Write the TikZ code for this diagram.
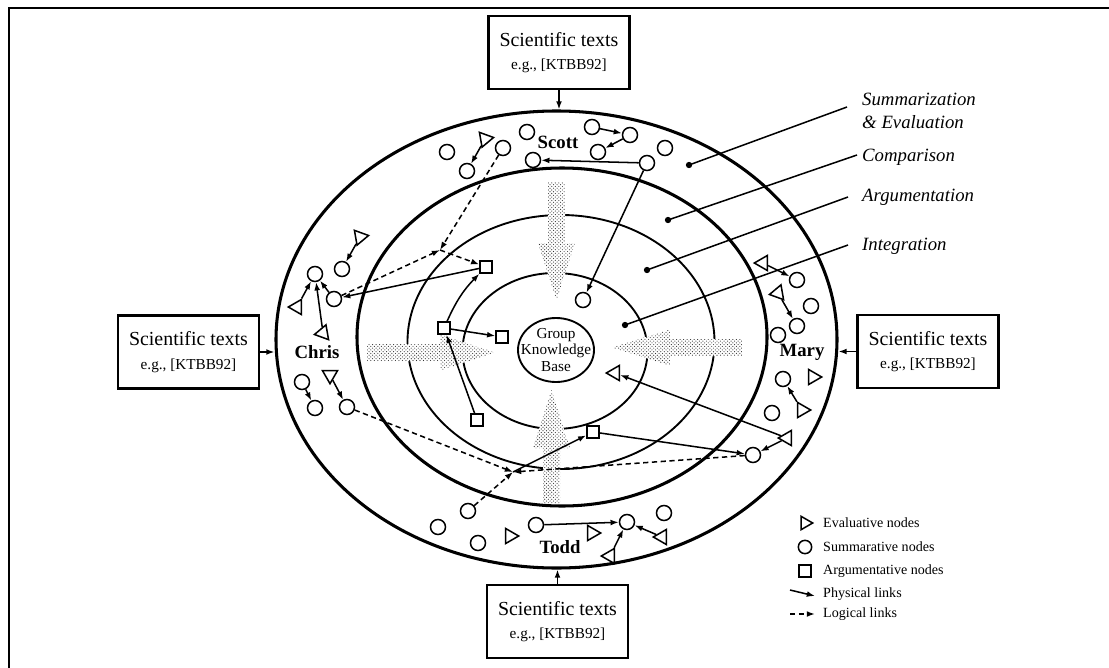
\documentclass[tikz,border=0pt]{standalone}
\usepackage{fontspec}
\setmainfont{Liberation Serif}
\usetikzlibrary{shapes.geometric,patterns,arrows.meta}
\newcommand{\sciencetext}{Scientific texts\\{\fontsize{13}{15}\selectfont e.g., [KTBB92]}}

\begin{document}
\begin{tikzpicture}[x=0.03cm, y=-0.03cm,
    summ/.style={circle, draw, line width=1.3pt, minimum size=0.45cm, inner sep=0pt},
    argu/.style={rectangle, draw, line width=1.3pt, minimum size=0.36cm, inner sep=0pt},
    evalnode/.style={regular polygon, regular polygon sides=3, draw, line width=1.3pt, minimum size=0.52cm, inner sep=0pt, shape border rotate=#1},
    evalnode/.default=0,
    who/.style={font=\fontsize{16}{18}\selectfont\bfseries, inner sep=0pt},
    region/.style={font=\fontsize{16}{19}\selectfont\itshape, align=left, inner sep=0pt, anchor=west},
    regdot/.style={circle, fill, inner sep=0pt, minimum size=0.19cm},
    textbox/.style={rectangle, draw, line width=2.2pt, minimum width=4.23cm, minimum height=2.2cm, align=center, font=\fontsize{17}{20}\selectfont},
    ring/.style={ellipse, draw, line width=#1, inner sep=0pt},
    phys/.style={-{Latex[length=7pt,width=5pt]}, line width=1.3pt},
    logi/.style={phys, dash pattern=on 4.5pt off 3pt},
    bigarrow/.style={preaction={fill=white}, pattern=crosshatch dots, pattern color=black!80},
    legend/.style={font=\fontsize{12}{14}\selectfont, anchor=west, inner sep=0pt}]
    \useasboundingbox (0,0) rectangle (1109,668);
    \draw[line width=2.5pt] (9,668) -- (9,8) -- (1109,8);

    % rings
    \node[ring=2.6pt, minimum width=16.83cm, minimum height=13.71cm] (outer) at (556.5,339.5) {};
    \node[ring=2.6pt, minimum width=12.3cm, minimum height=10.14cm] (comp) at (562,337) {};
    \node[ring=1.6pt, minimum width=9.21cm, minimum height=7.62cm] (argring) at (561,342) {};
    \node[ring=1.6pt, minimum width=5.55cm, minimum height=4.68cm] (intring) at (555,351) {};

    % shaded arrows
    \path[bigarrow] (548,182) -- (565,182) -- (565,243) -- (575,243) -- (556.5,300) -- (538,243) -- (548,243) -- cycle;
    \path[bigarrow] (543,503) -- (560,503) -- (560,448) -- (570,448) -- (551.5,390) -- (533,448) -- (543,448) -- cycle;
    \path[bigarrow] (367,344) -- (440,344) -- (440,334.5) -- (495,352.5) -- (440,370.5) -- (440,361) -- (367,361) -- cycle;
    \path[bigarrow] (742,339) -- (670,339) -- (670,329.5) -- (612,347.5) -- (670,365.5) -- (670,356) -- (742,356) -- cycle;

    \node[ring=1.6pt, minimum width=2.28cm, minimum height=1.92cm] (gkb) at (556,350) {};
    \node[font=\fontsize{13}{14}\selectfont, align=center, inner sep=0pt] (gkbtext) at (gkb) {Group\\Knowledge\\Base};

    % sources
    \node[textbox] (srcN) at (559,52.5) {\sciencetext};
    \node[textbox] (srcW) at (188.5,352) {\sciencetext};
    \node[textbox] (srcE) at (928,351.5) {\sciencetext};
    \node[textbox] (srcS) at (557.5,621.5) {\sciencetext};
    \draw[phys] (srcN.south) -- (srcN.south |- outer.north);
    \draw[phys] (srcW.east) -- (srcW.east -| outer.west);
    \draw[phys] (srcE.west) -- (srcE.west -| outer.east);
    \draw[phys] (srcS.north) -- (srcS.north |- outer.south);

    % region labels
    \node[regdot] (dSum) at (689,165) {};
    \node[regdot] (dCom) at (668,220) {};
    \node[regdot] (dArg) at (647,270) {};
    \node[regdot] (dInt) at (625,325) {};
    \node[region] (lSum) at (862,111) {Summarization\\\& Evaluation};
    \node[region] (lCom) at (862,157) {Comparison};
    \node[region] (lArg) at (862,197) {Argumentation};
    \node[region] (lInt) at (862,246) {Integration};
    \coordinate (eSum) at (847,107);
    \coordinate (eCom) at (857,155);
    \coordinate (eArg) at (848,197);
    \coordinate (eInt) at (848,245);
    \draw[line width=1.3pt] (dSum.center) -- (eSum);
    \draw[line width=1.3pt] (dCom.center) -- (eCom);
    \draw[line width=1.3pt] (dArg.center) -- (eArg);
    \draw[line width=1.3pt] (dInt.center) -- (eInt);

    % Scott
    \node[summ] (s1) at (447,152) {};
    \node[evalnode=160] (s2) at (485,139) {};
    \node[summ] (s3) at (467,171) {};
    \node[summ] (s4) at (503,148) {};
    \node[summ] (s5) at (527,132) {};
    \node[who] (scott) at (558,142) {Scott};
    \node[summ] (s6) at (592,127) {};
    \node[summ] (s7) at (630,135) {};
    \node[summ] (s8) at (598,152) {};
    \node[summ] (s9) at (665,148) {};
    \node[summ] (s10) at (647,163) {};
    \node[summ] (s11) at (533,160) {};

    % Chris
    \node[evalnode=160] (c1) at (360,237) {};
    \node[summ] (c2) at (342,269) {};
    \node[summ] (c3) at (315,274) {};
    \node[summ] (c4) at (334,299) {};
    \node[evalnode=90] (c5) at (297,307) {};
    \node[evalnode=100] (c6) at (323,333) {};
    \node[who] (chris) at (317,352) {Chris};
    \node[summ] (c7) at (302,382) {};
    \node[summ] (c8) at (315,408) {};
    \node[evalnode=180] (c9) at (330,375) {};
    \node[summ] (c10) at (347,407) {};

    % Mary
    \node[evalnode=90] (m1) at (763,263) {};
    \node[summ] (m2) at (797,280) {};
    \node[evalnode=100] (m3) at (778,293) {};
    \node[summ] (m4) at (811,306) {};
    \node[summ] (m5) at (797,326) {};
    \node[summ] (m6) at (778,335) {};
    \node[who] (mary) at (802,352) {Mary};
    \node[summ] (m7) at (783,379) {};
    \node[evalnode=-90] (m8) at (813,377) {};
    \node[evalnode=30] (m9) at (802,410) {};
    \node[summ] (m10) at (772,413) {};
    \node[evalnode=90] (m11) at (787,438) {};
    \node[summ] (m12) at (753,455) {};

    % Todd
    \node[summ] (t1) at (438,527) {};
    \node[summ] (t2) at (468,511) {};
    \node[summ] (t3) at (478,543) {};
    \node[evalnode=-90] (t4) at (510,536) {};
    \node[summ] (t5) at (536,525) {};
    \node[evalnode=-90] (t6) at (592,533) {};
    \node[who] (todd) at (560,547) {Todd};
    \node[summ] (t7) at (627,522) {};
    \node[evalnode=-30] (t8) at (610,556) {};
    \node[evalnode=90] (t9) at (662,537) {};
    \node[summ] (t10) at (664,513) {};

    % inner nodes
    \node[argu] (a1) at (486,267) {};
    \node[argu] (a2) at (444,328) {};
    \node[argu] (a3) at (502,337) {};
    \node[argu] (a4) at (477,420) {};
    \node[argu] (a5) at (593,432) {};
    \node[summ] (k1) at (583,300) {};
    \node[evalnode=90] (k2) at (615,373) {};
    \coordinate (J1) at (440,250);
    \coordinate (J2) at (513,472);

    % physical links
    \draw[phys] (s2) -- (s3);
    \draw[phys] (s6) -- (s7);
    \draw[phys] (s7) -- (s8);
    \draw[phys] (s10) -- (s11);
    \draw[phys] (s10) -- (k1);
    \draw[phys] (c1) -- (c2);
    \draw[phys] (c5) -- (c3);
    \draw[phys] (c6) -- (c3);
    \draw[phys] (c4) -- (c3);
    \draw[phys] (c7) -- (c8);
    \draw[phys] (c9) -- (c10);
    \draw[phys] (a1) -- (c4);
    \draw[phys] (a2) to[bend left=10] (a1);
    \draw[phys] (a2) -- (a3);
    \draw[phys] (a4) -- (a2);
    \draw[phys] (m1) -- (m2);
    \draw[phys] (m3) -- (m5);
    \draw[phys] (m9) -- (m7);
    \draw[phys] (m11) -- (m12);
    \draw[phys] (m11) -- (k2);
    \draw[phys] (J2) -- (a5);
    \draw[phys] (a5) -- (m12);
    \draw[phys] (t5) -- (t7);
    \draw[phys] (t8) -- (t7);
    \draw[phys] (t9) -- (t7);

    % logical links
    \draw[logi] (s4) -- (J1);
    \draw[logi] (c4) -- (J1);
    \draw[logi] (J1) -- (a1);
    \draw[logi] (c10) -- (J2);
    \draw[logi] (t2) -- (J2);
    \draw[logi] (m12) -- (J2);

    % legend
    \node[evalnode=-90, minimum size=0.46cm] (leg1) at (805,523) {};
    \node[legend] (legt1) at (823,523) {Evaluative nodes};
    \node[summ, minimum size=0.4cm] (leg2) at (805,547) {};
    \node[legend] (legt2) at (823,547) {Summarative nodes};
    \node[argu] (leg3) at (805,571) {};
    \node[legend] (legt3) at (823,571) {Argumentative nodes};
    \coordinate (leg4a) at (790,590);
    \coordinate (leg4b) at (815,596);
    \draw[phys] (leg4a) -- (leg4b);
    \node[legend] (legt4) at (823,594) {Physical links};
    \coordinate (leg5a) at (790,614);
    \coordinate (leg5b) at (815,614);
    \draw[logi] (leg5a) -- (leg5b);
    \node[legend] (legt5) at (823,614) {Logical links};
\end{tikzpicture}
\end{document}
